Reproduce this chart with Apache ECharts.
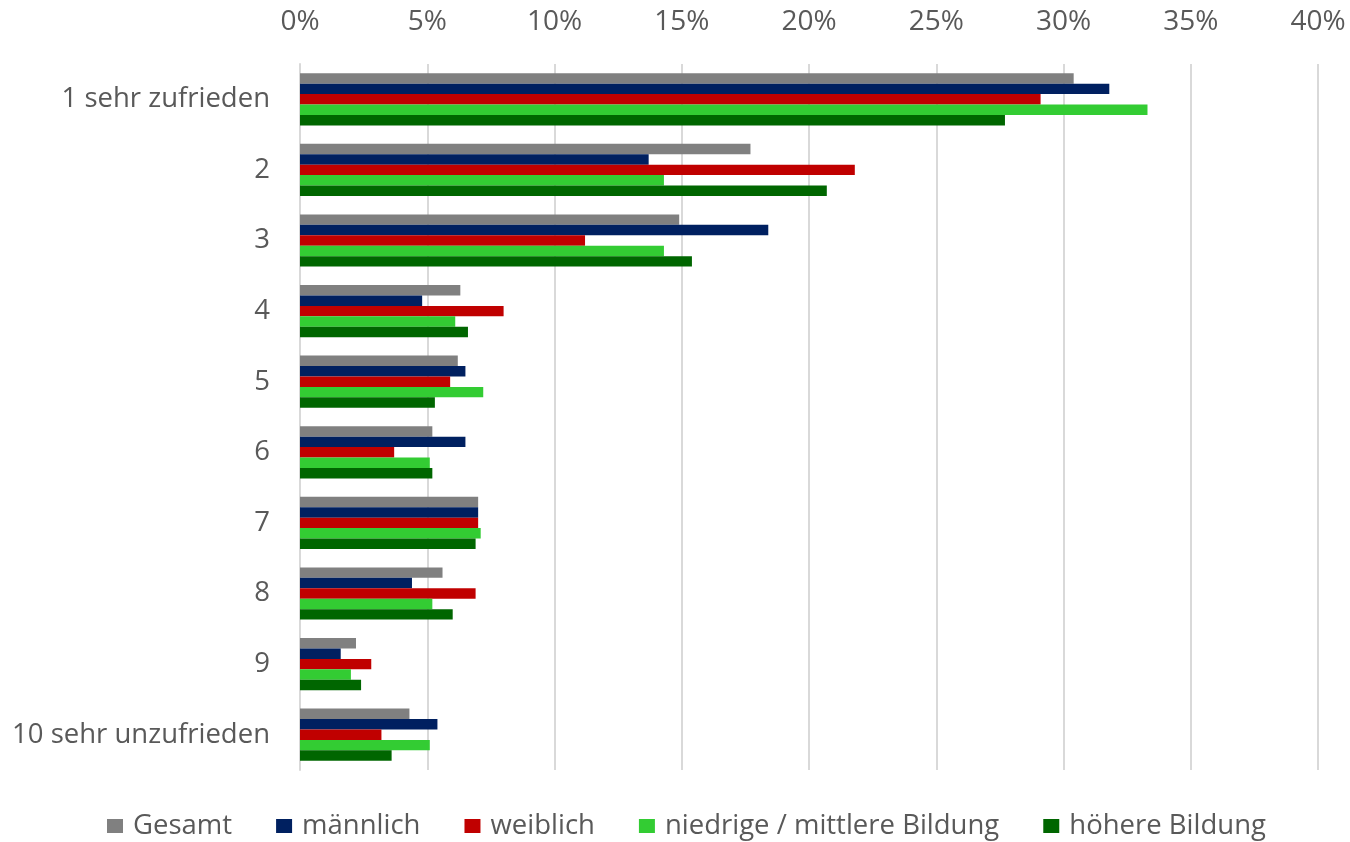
<!DOCTYPE html>
<html>
<head>
<meta charset="utf-8">
<script src="https://cdn.jsdelivr.net/npm/echarts@6/dist/echarts.min.js"></script>
<style>
html,body{margin:0;padding:0;background:#fff;}
#chart{width:1350px;height:842px;}
</style>
</head>
<body>
<div id="chart"></div>
<script>
const categories = ['1 sehr zufrieden','2','3','4','5','6','7','8','9','10 sehr unzufrieden'];
const seriesNames = ['Gesamt','männlich','weiblich','niedrige / mittlere Bildung','höhere Bildung'];
const gesamt   = [30.4, 17.7, 14.9, 6.3, 6.2, 5.2, 7.0, 5.6, 2.2, 4.3];
const maennlich= [31.8, 13.7, 18.4, 4.8, 6.5, 6.5, 7.0, 4.4, 1.6, 5.4];
const weiblich = [29.1, 21.8, 11.2, 8.0, 5.9, 3.7, 7.0, 6.9, 2.8, 3.2];
const niedrig  = [33.3, 14.3, 14.3, 6.1, 7.2, 5.1, 7.1, 5.2, 2.0, 5.1];
const hoeher   = [27.7, 20.7, 15.4, 6.6, 5.3, 5.2, 6.9, 6.0, 2.4, 3.6];
const colors = ['#808080','#002060','#C00000','#33CC33','#006600'];
const values = [gesamt, maennlich, weiblich, niedrig, hoeher];

const font = '"Open Sans", sans-serif';
const chart = echarts.init(document.getElementById('chart'));
chart.setOption({
  animation: false,
  textStyle: {fontFamily: font},
  grid: {left: 300, right: 32, top: 64, bottom: 72, containLabel: false},
  legend: {
    bottom: -3, left: 102,
    itemWidth: 16, itemHeight: 14, itemGap: 44,
    icon: 'rect',
    textStyle: {fontSize: 27.5, color: '#595959', fontFamily: font, padding: [0, 0, 0, 5]},
    data: seriesNames
  },
  xAxis: {
    type: 'value', position: 'top', min: 0, max: 40, interval: 5,
    axisLabel: {formatter: '{value}%', fontSize: 28, color: '#595959', margin: 28},
    axisLine: {show: false}, axisTick: {show: false},
    splitLine: {lineStyle: {color: '#d9d9d9', width: 2}}
  },
  yAxis: {
    type: 'category', inverse: true, data: categories,
    axisLabel: {fontSize: 27.5, color: '#595959', margin: 30},
    axisLine: {show: true, lineStyle: {color: '#d9d9d9', width: 2}},
    axisTick: {show: false}
  },
  series: seriesNames.map((n, i) => ({
    name: n, type: 'bar', data: values[i],
    itemStyle: {color: colors[i]},
    barGap: '0%', barCategoryGap: '26%'
  }))
});
</script>
</body>
</html>
